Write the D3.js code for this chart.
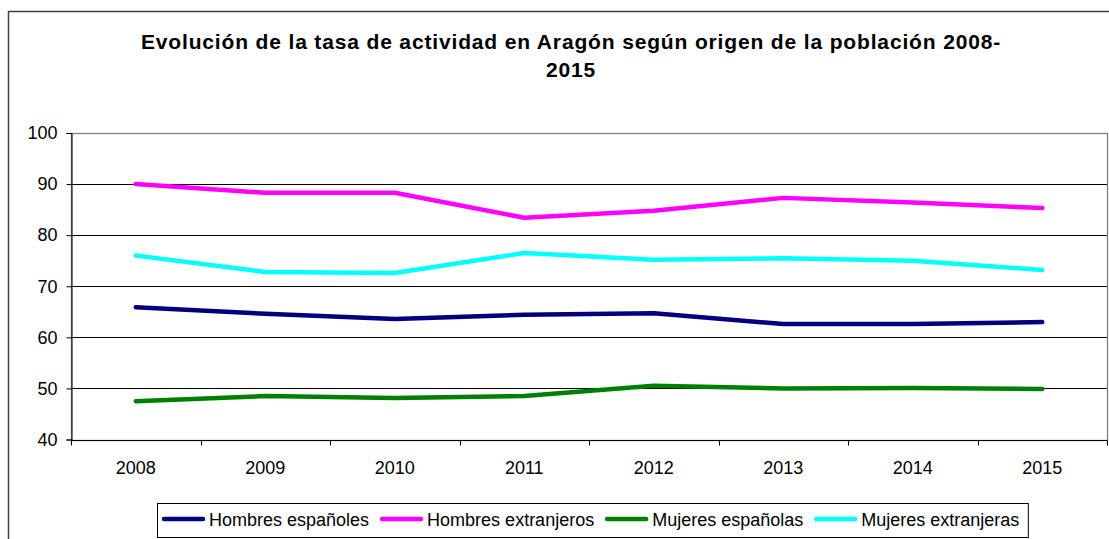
<!DOCTYPE html>
<html>
<head>
<meta charset="utf-8">
<script src="https://cdn.jsdelivr.net/npm/d3@7"></script>
<style>
	body{ margin:0; background:#fff; }
	svg{ display:block; font-family:"Liberation Sans", Arial, sans-serif; }
</style>
</head>
<body>
<svg id="chart" width="1109" height="539"></svg>
<script>
(function(){
	'use strict';

	var years = ["2008", "2009", "2010", "2011", "2012", "2013", "2014", "2015"];
	var yTicks = [40, 50, 60, 70, 80, 90, 100];

	var seriesNames = ["Hombres españoles", "Hombres extranjeros", "Mujeres españolas", "Mujeres extranjeras"];
	var seriesColors = ["#000080", "#ff00ff", "#008000", "#00ffff"];

	var hombresEspanoles   = [65.9, 64.6, 63.6, 64.4, 64.7, 62.6, 62.6, 63.0];
	var hombresExtranjeros = [90.0, 88.3, 88.3, 83.4, 84.8, 87.3, 86.4, 85.3];
	var mujeresEspanolas   = [47.5, 48.5, 48.1, 48.5, 50.5, 50.0, 50.1, 49.9];
	var mujeresExtranjeras = [76.0, 72.8, 72.6, 76.5, 75.2, 75.5, 75.0, 73.2];

	var seriesValues = [hombresEspanoles, hombresExtranjeros, mujeresEspanolas, mujeresExtranjeras];

	var svg = d3.select("#chart");
	var m = {left: 71, top: 133, right: 1107, bottom: 439.5};
	var font = "Liberation Sans, Arial, sans-serif";

	// outer chart frame (right/bottom fall outside the window)
	svg.append("rect")
		.attr("x", 8.5).attr("y", 11.5)
		.attr("width", 1140).attr("height", 560)
		.attr("fill", "none")
		.attr("stroke", "#404040")
		.attr("stroke-width", 1.5);

	// title
	var title = svg.append("text")
		.attr("text-anchor", "middle")
		.attr("font-size", "21px")
		.attr("font-weight", "bold")
		.attr("letter-spacing", "0.85px")
		.attr("fill", "#000");
	title.append("tspan").attr("x", 571).attr("y", 49)
		.text("Evolución de la tasa de actividad en Aragón según origen de la población 2008-");
	title.append("tspan").attr("x", 571).attr("y", 77)
		.text("2015");

	var xScale = d3.scaleBand()
		.domain(years)
		.range([m.left, m.right]);
	var yScale = d3.scaleLinear()
		.domain([40, 100])
		.range([m.bottom, m.top]);

	// gridlines
	svg.append("g")
		.selectAll("line")
		.data(yTicks.filter(function(d){ return d > 40 && d < 100; }))
	.enter().append("line")
		.attr("x1", m.left).attr("x2", m.right)
		.attr("y1", function(d){ return Math.round(yScale(d)) + 0.5; })
		.attr("y2", function(d){ return Math.round(yScale(d)) + 0.5; })
		.attr("stroke", "#000")
		.attr("stroke-width", 1);

	// plot area border
	svg.append("rect")
		.attr("x", m.left + 0.5).attr("y", Math.round(m.top) + 0.5)
		.attr("width", m.right - m.left)
		.attr("height", Math.round(m.bottom) - Math.round(m.top))
		.attr("fill", "none")
		.attr("stroke", "#808080")
		.attr("stroke-width", 1.3);

	// y axis
	var yAxis = d3.axisLeft(yScale)
		.tickValues(yTicks)
		.tickSize(5)
		.tickPadding(9)
		.tickFormat(d3.format("d"));
	var gy = svg.append("g")
		.attr("transform", "translate(" + (m.left + 0.5) + ",0)")
		.call(yAxis);
	gy.attr("font-size", "18px").attr("font-family", font);
	gy.select(".domain").attr("stroke", "#000");
	gy.selectAll(".tick line").attr("stroke", "#000");
	gy.selectAll(".tick text").attr("fill", "#000");

	// x axis, ticks between categories
	var xEdges = years.map(function(d){ return xScale(d); }).concat([m.right]);
	var gx = svg.append("g")
		.attr("transform", "translate(0," + (Math.round(m.bottom) + 0.5) + ")");
	gx.append("line")
		.attr("x1", m.left).attr("x2", m.right)
		.attr("stroke", "#000");
	gx.selectAll("line.tick")
		.data(xEdges)
	.enter().append("line")
		.attr("class", "tick")
		.attr("x1", function(d){ return Math.round(d) + 0.5; })
		.attr("x2", function(d){ return Math.round(d) + 0.5; })
		.attr("y1", 0).attr("y2", 5)
		.attr("stroke", "#000");
	gx.selectAll("text")
		.data(years)
	.enter().append("text")
		.attr("x", function(d){ return xScale(d) + xScale.bandwidth() / 2; })
		.attr("y", 33)
		.attr("text-anchor", "middle")
		.attr("font-size", "18px")
		.attr("fill", "#000")
		.text(function(d){ return d; });

	// lines
	var line = d3.line()
		.x(function(d, i){ return xScale(years[i]) + xScale.bandwidth() / 2; })
		.y(function(d){ return yScale(d); });

	svg.append("g")
		.selectAll("path")
		.data(seriesValues)
	.enter().append("path")
		.attr("d", line)
		.attr("fill", "none")
		.attr("stroke", function(d, i){ return seriesColors[i]; })
		.attr("stroke-width", 4.5)
		.attr("stroke-linejoin", "round")
		.attr("stroke-linecap", "round");

	// legend
	var legend = svg.append("g");
	var box = legend.append("rect")
		.attr("x", 157.5).attr("y", 503.5)
		.attr("height", 34)
		.attr("fill", "#fff")
		.attr("stroke", "#000")
		.attr("stroke-width", 1);

	var cx = 162;
	seriesNames.forEach(function(name, i){
		legend.append("line")
			.attr("x1", cx + 2).attr("x2", cx + 41)
			.attr("y1", 519).attr("y2", 519)
			.attr("stroke", seriesColors[i])
			.attr("stroke-width", 4.5)
			.attr("stroke-linecap", "round");
		var t = legend.append("text")
			.attr("x", cx + 47).attr("y", 526)
			.attr("font-size", "18px")
			.attr("fill", "#000")
			.text(name);
		cx = cx + 47 + t.node().getComputedTextLength() + 11;
	});
	box.attr("width", cx - 157.5 - 2);
}());
</script>
</body>
</html>
